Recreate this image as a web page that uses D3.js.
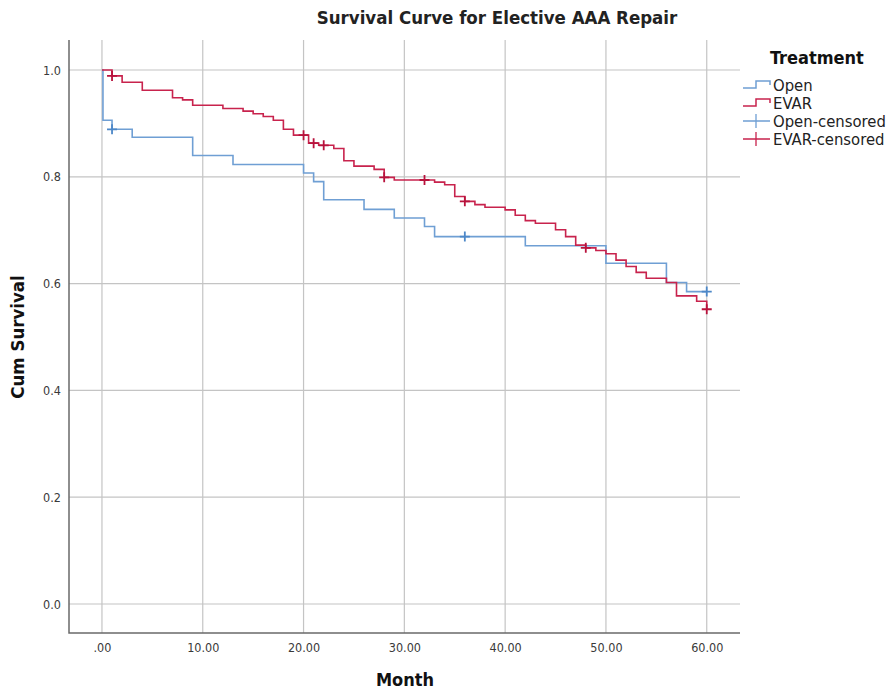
<!DOCTYPE html>
<html>
<head>
<meta charset="utf-8">
<script src="https://cdn.jsdelivr.net/npm/d3@7"></script>
<style>
  body { margin: 0; background: #fff; }
  svg { display: block; }
  text { font-family: "DejaVu Sans Condensed", "Liberation Sans Narrow", "Open Sans", sans-serif; }
</style>
</head>
<body>
<svg id="chart" width="891" height="689"></svg>
<script>
// Kaplan-Meier steps (month, cum survival after the step)
const openTimes = [0, 0.1, 1, 3, 9, 13, 20, 21, 22, 26, 29, 32, 33, 42, 50, 56, 58, 60];
const openSurv = [1.0, 0.906, 0.889, 0.874, 0.840, 0.823, 0.807, 0.791, 0.757, 0.739, 0.723, 0.707, 0.688, 0.671, 0.638, 0.602, 0.585, 0.585];
const openCensored = [1, 36, 60];

const evarTimes = [0, 1, 2, 4, 7, 8, 9, 12, 14, 15, 16, 17, 18, 19, 20.5, 21.5, 23, 24, 25, 27, 28, 29,
	33, 34, 35, 36, 37, 38, 40, 41, 42, 43, 45, 46, 47, 48, 49, 50, 51, 52, 53, 54, 56, 57, 59, 60];
const evarSurv = [1.0, 0.989, 0.977, 0.962, 0.948, 0.944, 0.934, 0.928, 0.923, 0.918, 0.913, 0.906, 0.889, 0.878, 0.863, 0.859, 0.853, 0.830, 0.820, 0.814, 0.799, 0.794,
	0.790, 0.785, 0.763, 0.754, 0.748, 0.743, 0.738, 0.728, 0.718, 0.713, 0.701, 0.688, 0.672, 0.667, 0.662, 0.656, 0.644, 0.632, 0.621, 0.610, 0.602, 0.577, 0.567, 0.552];
const evarCensored = [1, 20, 21, 22, 28, 32, 36, 48, 60];

const xTicks = [0, 10, 20, 30, 40, 50, 60];
const xTickLabels = ['.00', '10.00', '20.00', '30.00', '40.00', '50.00', '60.00'];
const yTicks = [0, 0.2, 0.4, 0.6, 0.8, 1.0];
const yTickLabels = ['0.0', '0.2', '0.4', '0.6', '0.8', '1.0'];

const legendLabels = ['Open', 'EVAR', 'Open-censored', 'EVAR-censored'];

const openColor = '#6f9fd4';
const evarColor = '#c8234d';

const svg = d3.select('#chart');
const plotLeft = 69, plotRight = 740, plotTop = 40, plotBottom = 633;

const x = d3.scaleLinear().domain([-3.27, 63.3]).range([plotLeft, plotRight]);
const y = d3.scaleLinear().domain([-0.0543, 1.0562]).range([plotBottom, plotTop]);

// grid
svg.append('g')
	.selectAll('line')
	.data(xTicks)
	.join('line')
	.attr('x1', d => x(d)).attr('x2', d => x(d))
	.attr('y1', plotTop).attr('y2', plotBottom)
	.attr('stroke', '#c4c4c4').attr('stroke-width', 1.2);

svg.append('g')
	.selectAll('line')
	.data(yTicks)
	.join('line')
	.attr('x1', plotLeft).attr('x2', plotRight)
	.attr('y1', d => y(d)).attr('y2', d => y(d))
	.attr('stroke', '#c4c4c4').attr('stroke-width', 1.2);

// axes
const xAxis = d3.axisBottom(x)
	.tickValues(xTicks)
	.tickFormat((d, i) => xTickLabels[i])
	.tickSize(0)
	.tickPadding(10);
const gx = svg.append('g')
	.attr('transform', `translate(0,${plotBottom})`)
	.call(xAxis);
gx.select('.domain').remove();
gx.selectAll('text').attr('font-size', 12.5).attr('fill', '#3a3a3a')
	.style('font-family', '"DejaVu Sans Condensed", sans-serif');

const yAxis = d3.axisLeft(y)
	.tickValues(yTicks)
	.tickFormat((d, i) => yTickLabels[i])
	.tickSize(0)
	.tickPadding(8);
const gy = svg.append('g')
	.attr('transform', `translate(${plotLeft},0)`)
	.call(yAxis);
gy.select('.domain').remove();
gy.selectAll('text').attr('font-size', 12.5).attr('fill', '#3a3a3a')
	.style('font-family', '"DejaVu Sans Condensed", sans-serif');

svg.append('path')
	.attr('d', `M${plotLeft},${plotTop}V${plotBottom}H${plotRight}`)
	.attr('fill', 'none')
	.attr('stroke', '#6a6a6a')
	.attr('stroke-width', 1.5);

// curves
const step = d3.line()
	.x(d => x(d[0]))
	.y(d => y(d[1]))
	.curve(d3.curveStepAfter);

function survAt(times, surv, t) {
	let s = surv[0];
	for (let i = 0; i < times.length; i++) {
		if (times[i] <= t) s = surv[i];
	}
	return s;
}

function drawCurve(times, surv, censored, color, markColor) {
	svg.append('path')
		.datum(times.map((t, i) => [t, surv[i]]))
		.attr('d', step)
		.attr('fill', 'none')
		.attr('stroke', color)
		.attr('stroke-width', 1.6);

	const marks = svg.append('g');
	censored.forEach(t => {
		const cx = x(t), cy = y(survAt(times, surv, t));
		marks.append('path')
			.attr('d', `M${cx - 5},${cy}H${cx + 5}M${cx},${cy - 5}V${cy + 5}`)
			.attr('stroke', markColor)
			.attr('stroke-width', 1.8);
	});
}

drawCurve(openTimes, openSurv, openCensored, openColor, '#4d88c8');
drawCurve(evarTimes, evarSurv, evarCensored, evarColor, '#b8123c');

// titles
svg.append('text')
	.attr('x', 497).attr('y', 24)
	.attr('text-anchor', 'middle')
	.attr('font-size', 18.5).attr('font-weight', 'bold')
	.attr('fill', '#222')
	.text('Survival Curve for Elective AAA Repair');

svg.append('text')
	.attr('x', 405).attr('y', 686)
	.attr('text-anchor', 'middle')
	.attr('font-size', 18).attr('font-weight', 'bold')
	.attr('fill', '#111')
	.text('Month');

svg.append('text')
	.attr('transform', 'translate(24,337) rotate(-90)')
	.attr('text-anchor', 'middle')
	.attr('font-size', 18.5).attr('font-weight', 'bold')
	.attr('fill', '#111')
	.text('Cum Survival');

// legend
const legend = svg.append('g');
legend.append('text')
	.attr('x', 770).attr('y', 64)
	.attr('font-size', 18).attr('font-weight', 'bold')
	.attr('fill', '#111')
	.text('Treatment');

const legendColors = [openColor, evarColor, openColor, evarColor];
legendLabels.forEach((label, i) => {
	const cy = 85 + i * 18;
	if (i < 2) {
		legend.append('path')
			.attr('d', `M743,${cy + 3}H756V${cy - 4}H770V${cy}`)
			.attr('fill', 'none')
			.attr('stroke', legendColors[i])
			.attr('stroke-width', 1.5);
	} else {
		legend.append('path')
			.attr('d', `M743,${cy}H770M756,${cy - 7}V${cy + 7}`)
			.attr('stroke', legendColors[i])
			.attr('stroke-width', 1.3);
	}
	legend.append('text')
		.attr('x', 773).attr('y', cy + 6)
		.attr('font-size', 16.5)
		.attr('fill', '#222')
		.text(label);
});
</script>
</body>
</html>
